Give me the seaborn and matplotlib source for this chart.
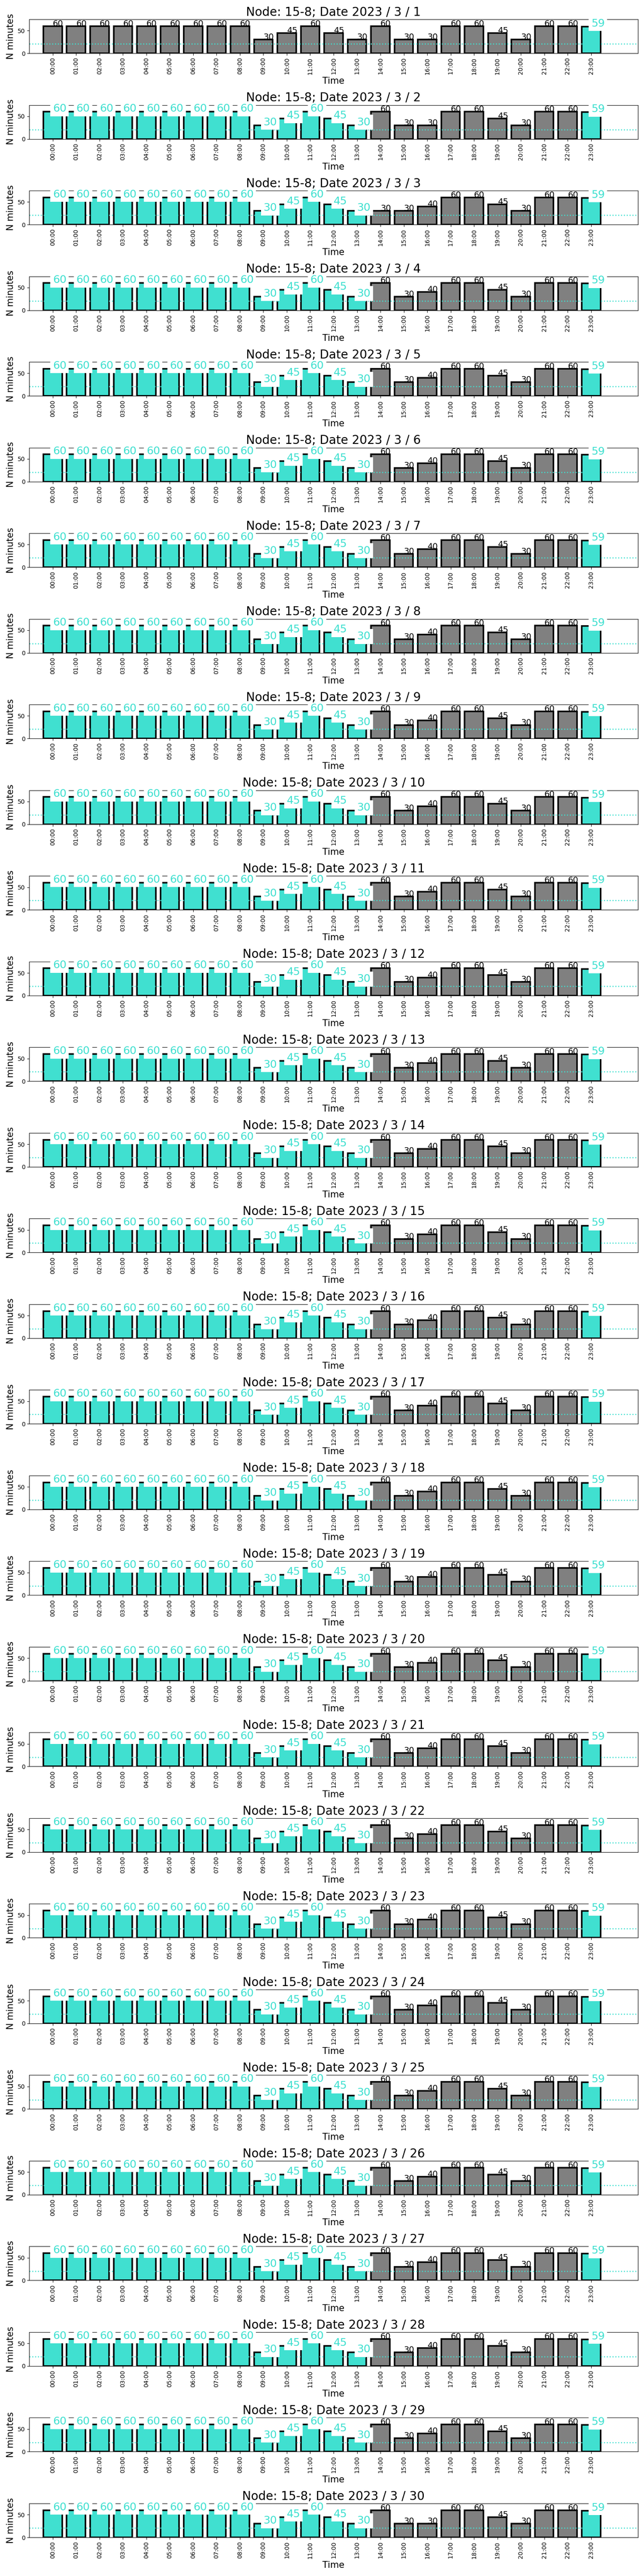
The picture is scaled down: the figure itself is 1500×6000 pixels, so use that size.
import matplotlib
matplotlib.use("Agg")
import matplotlib.pyplot as plt
import seaborn as sns
import pandas as pd

NODE = "15-8"
YEAR, MONTH = 2023, 3
days = list(range(1, 31))

hours = [f"{h:02d}:00" for h in range(24)]

# minutes per hour, 00:00-13:00 (same every day)
early_values = [60, 60, 60, 60, 60, 60, 60, 60, 60, 30, 45, 60, 45, 30]
# 14:00-22:00, the patterns seen across the month
late_patterns = {
    "a": [60, 30, 30, 60, 60, 45, 30, 60, 60],
    "b": [30, 30, 40, 60, 60, 45, 30, 60, 60],
    "c": [60, 30, 40, 60, 60, 45, 30, 60, 60],
}
day_pattern = ["a", "a", "b", "c", "c", "c", "c", "c", "c", "c",
               "c", "c", "c", "c", "c", "c", "c", "c", "c", "c",
               "c", "c", "c", "c", "c", "c", "c", "c", "c", "a"]
last_value = 59  # 23:00

# hours highlighted on the first day vs the rest
first_day_highlight = [23]
other_day_highlight = list(range(14)) + [23]

threshold = 20.7

GREY = "grey"
CYAN = "turquoise"

fig, axes = plt.subplots(len(days), 1, figsize=(15, 60))
fig.subplots_adjust(left=0.0455, right=0.9905, top=0.9925, bottom=0.015, hspace=1.525)

for ax, day, pat in zip(axes, days, day_pattern):
    values = early_values + late_patterns[pat] + [last_value]
    hl = first_day_highlight if day == 1 else other_day_highlight
    flags = [i in hl for i in range(24)]
    df = pd.DataFrame({"Time": hours, "N minutes": values})
    palette = {h: (CYAN if f else GREY) for h, f in zip(hours, flags)}

    sns.barplot(data=df, x="Time", y="N minutes", hue="Time", palette=palette,
                saturation=1, edgecolor="black", linewidth=2.6, legend=False, ax=ax)
    ax.axhline(threshold, color=CYAN, linestyle=":", linewidth=1.8)

    for i, (v, f) in enumerate(zip(values, flags)):
        if f:
            ax.text(i, v, str(v), color=CYAN, fontsize=18,
                    bbox=dict(facecolor="white", edgecolor="none"))
        else:
            ax.text(i, v, str(v), color="black", fontsize=14)

    ax.set_xlim(-1, 25)
    ax.set_ylim(0, 75)
    ax.set_yticks([0, 50])
    ax.set_xticks(range(24))
    ax.set_xticklabels(hours, rotation=90, fontsize=10)
    ax.tick_params(axis="y", labelsize=10)
    ax.set_xlabel("Time", fontsize=15)
    ax.set_ylabel("N minutes", fontsize=15)
    ax.set_title(f"Node: {NODE}; Date {YEAR} / {MONTH} / {day}", fontsize=20)

plt.savefig("out.png", dpi=100)
plt.close()
